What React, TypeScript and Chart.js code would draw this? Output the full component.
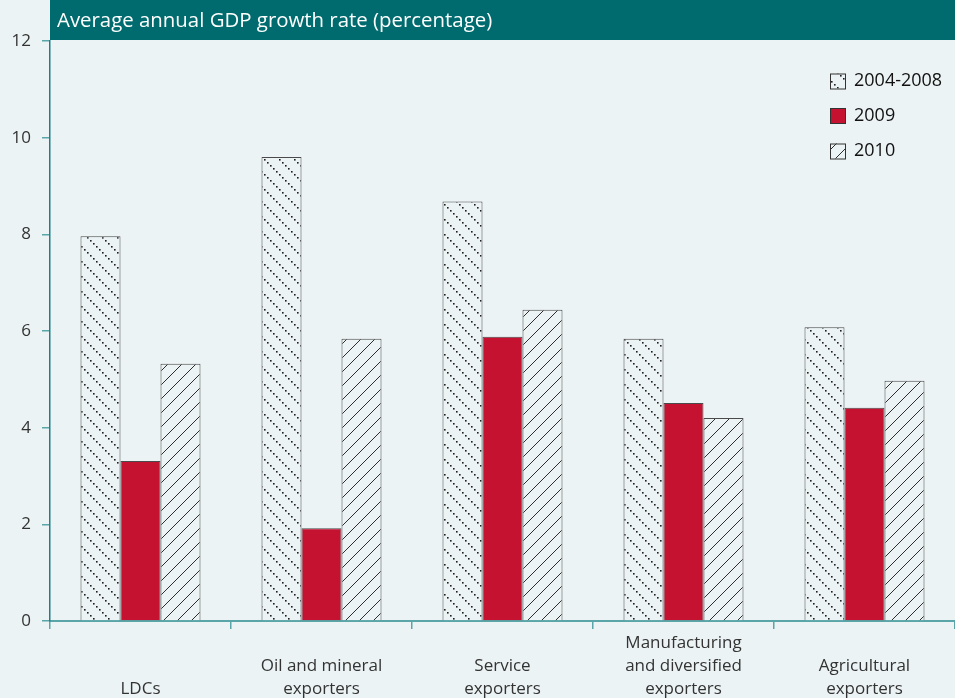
import { useEffect, useRef } from 'react';
import { Chart, registerables } from 'chart.js';

Chart.register(...registerables);

const categoryLines: string[][] = [
  ['', '', 'LDCs'],
  ['', 'Oil and mineral', 'exporters'],
  ['', 'Service', 'exporters'],
  ['Manufacturing', 'and diversified', 'exporters'],
  ['', 'Agricultural', 'exporters'],
];
const seriesLabels = ['2004-2008', '2009', '2010'];
const values20042008 = [7.96, 9.6, 8.68, 5.84, 6.08];
const values2009 = [3.31, 1.92, 5.88, 4.51, 4.41];
const values2010 = [5.32, 5.84, 6.44, 4.2, 4.97];
const titleText = 'Average annual GDP growth rate (percentage)';
const yMin = 0;
const yMax = 12;
const yStep = 2;

const BG = '#ECF3F5';
const TEAL = '#006B6E';
const AXIS_Y = '#1F7F83';
const AXIS_X = '#5AA5A8';
const RED = '#C41230';
const EDGE = '#4a4a4a';
const FONT = '"Open Sans", "Noto Sans", sans-serif';

function dottedPattern(ctx: CanvasRenderingContext2D): CanvasPattern | string {
  const s = 15;
  const c = document.createElement('canvas');
  c.width = s;
  c.height = s;
  const x = c.getContext('2d');
  if (!x) return BG;
  x.fillStyle = BG;
  x.fillRect(0, 0, s, s);
  x.fillStyle = '#1e1e1e';
  for (let i = 0; i < s; i += 3) x.fillRect(i, i, 1.6, 1.6);
  return ctx.createPattern(c, 'repeat') || BG;
}

function hatchPattern(ctx: CanvasRenderingContext2D): CanvasPattern | string {
  const s = 14;
  const c = document.createElement('canvas');
  c.width = s;
  c.height = s;
  const x = c.getContext('2d');
  if (!x) return BG;
  x.fillStyle = BG;
  x.fillRect(0, 0, s, s);
  x.strokeStyle = '#2e2e2e';
  x.lineWidth = 1;
  for (const off of [-s, 0, s]) {
    x.beginPath();
    x.moveTo(-1 + off, s + 1);
    x.lineTo(s + 1 + off, -1);
    x.stroke();
  }
  return ctx.createPattern(c, 'repeat') || BG;
}

const framePlugin = {
  id: 'frame',
  beforeDraw(chart: any) {
    const { ctx, chartArea, width } = chart;
    ctx.save();
    ctx.fillStyle = BG;
    ctx.fillRect(0, 0, width, chart.height);
    ctx.fillStyle = TEAL;
    ctx.fillRect(chartArea.left, 0, width - chartArea.left, chartArea.top - 1);
    ctx.fillStyle = '#ffffff';
    ctx.font = `20.4px ${FONT}`;
    ctx.textBaseline = 'middle';
    ctx.textAlign = 'left';
    ctx.fillText(titleText, chartArea.left + 7, (chartArea.top - 1) / 2 + 1);
    ctx.restore();
  },
  afterDraw(chart: any) {
    const { ctx } = chart;
    ctx.save();
    const x0 = 830;
    const ys = [81, 115.5, 151];
    chart.data.datasets.forEach((ds: any, i: number) => {
      const y = ys[i];
      ctx.fillStyle = ds.backgroundColor;
      ctx.fillRect(x0, y - 7.5, 15, 15);
      ctx.strokeStyle = '#333';
      ctx.lineWidth = 1;
      ctx.strokeRect(x0 + 0.5, y - 7.5 + 0.5, 15, 15);
      ctx.fillStyle = '#111';
      ctx.font = `18px ${FONT}`;
      ctx.textBaseline = 'middle';
      ctx.textAlign = 'left';
      ctx.fillText(ds.label, x0 + 24, y);
    });
    ctx.restore();
  },
};

export default function App() {
  const ref = useRef<HTMLCanvasElement | null>(null);

  useEffect(() => {
    document.body.style.margin = '0';
    document.body.style.background = BG;
    const canvas = ref.current;
    if (!canvas) return;
    const ctx = canvas.getContext('2d');
    if (!ctx) return;
    const common = {
      borderColor: EDGE,
      borderWidth: 1,
      categoryPercentage: 0.663,
      barPercentage: 1.0,
    };
    const chart = new Chart(canvas, {
      type: 'bar',
      data: {
        labels: categoryLines,
        datasets: [
          { label: seriesLabels[0], data: values20042008, backgroundColor: dottedPattern(ctx) as any, ...common },
          { label: seriesLabels[1], data: values2009, backgroundColor: RED, ...common },
          { label: seriesLabels[2], data: values2010, backgroundColor: hatchPattern(ctx) as any, ...common },
        ],
      },
      options: {
        animation: false,
        responsive: false,
        devicePixelRatio: 1,
        layout: { padding: { top: 41, left: 0, right: 0, bottom: 0 } },
        plugins: {
          legend: { display: false },
          tooltip: { enabled: false },
        },
        scales: {
          x: {
            grid: { offset: true, drawOnChartArea: false, tickLength: 8, color: AXIS_X, lineWidth: 1.5 },
            border: { color: AXIS_X, width: 2 },
            ticks: {
              font: { size: 17, family: FONT, lineHeight: 1.38 },
              color: '#333',
              padding: 2,
              maxRotation: 0,
              autoSkip: false,
            },
            afterFit: (s: any) => {
              s.height = 77;
            },
          },
          y: {
            min: yMin,
            max: yMax,
            ticks: {
              stepSize: yStep,
              font: { size: 17, family: FONT },
              color: '#333',
              padding: 11,
            },
            grid: { drawOnChartArea: false, tickLength: 8, color: AXIS_X, lineWidth: 1.5 },
            border: { color: AXIS_Y, width: 1.5 },
            afterFit: (s: any) => {
              s.width = 50;
            },
          },
        },
      },
      plugins: [framePlugin],
    });
    return () => chart.destroy();
  }, []);

  return (
    <div style={{ width: 955, height: 698, background: BG }}>
      <canvas ref={ref} width={955} height={698} style={{ display: 'block', width: 955, height: 698 }} />
    </div>
  );
}
